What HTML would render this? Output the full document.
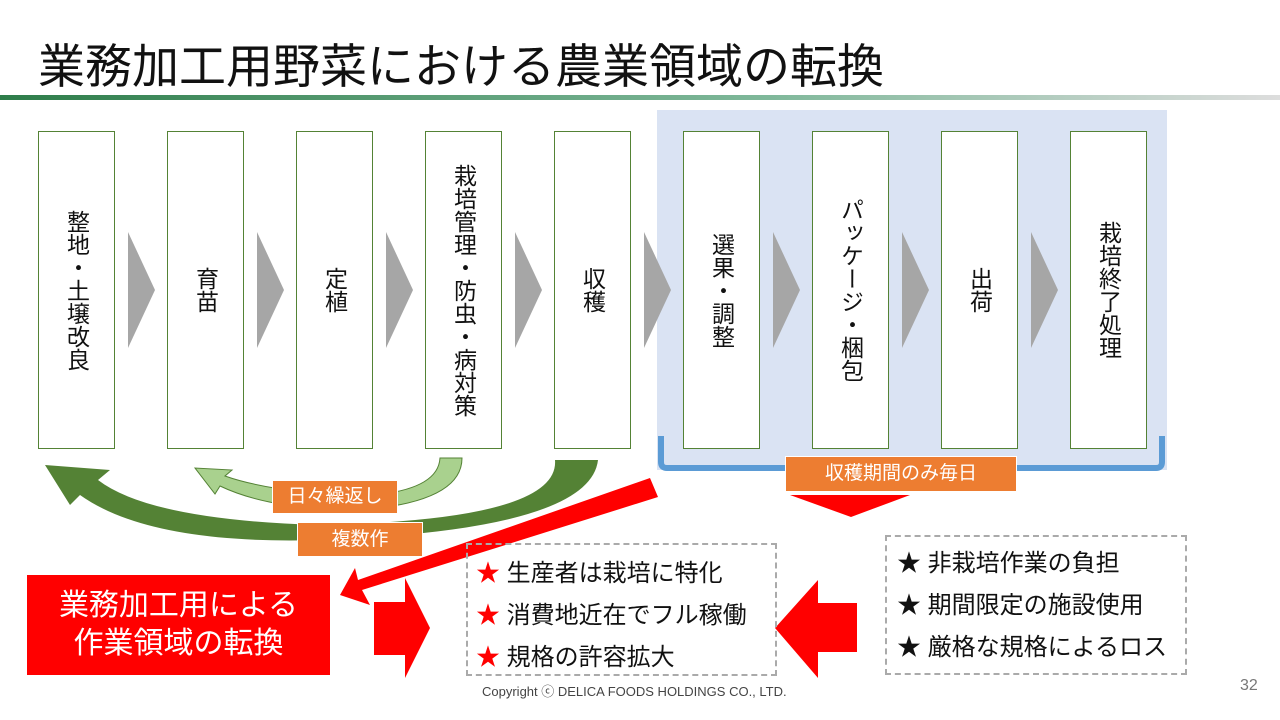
<!DOCTYPE html><html><head><meta charset="utf-8"><style>
body{margin:0;width:1280px;height:720px;background:#fff;position:relative;overflow:hidden;font-family:"Liberation Sans","Noto Sans CJK JP",sans-serif}
.a{position:absolute}
.box{position:absolute;top:131px;width:75px;height:316px;border:1.5px solid #548235;background:#fff;display:flex;justify-content:center;padding-top:0}
.box span{writing-mode:vertical-rl;font-size:23px;color:#111;align-self:center;letter-spacing:0px}
.or{position:absolute;background:#ed7d31;color:#fff;font-size:19px;text-align:center;border:1px solid #fff}
.dash{position:absolute;border:2px dashed #aaa;box-sizing:border-box;font-size:24px;color:#111}
.dash div{height:42px;line-height:42px}
</style></head><body>
<div class="a" style="left:38px;top:28px;font-size:47px;color:#111">業務加工用野菜における農業領域の転換</div>
<div class="a" style="left:0;top:95px;width:1280px;height:5px;background:linear-gradient(90deg,#2e7d4a,#7fb89a 60%,#ddd)"></div>
<div class="a" style="left:657px;top:110px;width:510px;height:360px;background:#dae3f3"></div>
<svg class="a" style="left:0;top:0" width="1280" height="720">
<path d="M661 436 V462 Q661 468 667 468 H1156 Q1162 468 1162 462 V436" fill="none" stroke="#5b9bd5" stroke-width="6"/>
<g fill="#a6a6a6">
<polygon points="128,232 155,290 128,348"/><polygon points="257,232 284,290 257,348"/><polygon points="386,232 413,290 386,348"/><polygon points="515,232 542,290 515,348"/><polygon points="644,232 671,290 644,348"/><polygon points="773,232 800,290 773,348"/><polygon points="902,232 929,290 902,348"/><polygon points="1031,232 1058,290 1031,348"/></g>
<path d="M555 460 Q560 520 320 525 Q150 520 98 480 L110 470 L45 465 L70 505 L80 495 Q150 545 320 540 Q590 530 598 460 Z" fill="#548235"/>
<path d="M440 458 Q438 492 360 496 Q270 492 225 476 L232 470 L195 468 L215 494 L220 486 Q270 510 360 510 Q462 502 462 458 Z" fill="#a9d18e" stroke="#548235" stroke-width="1"/>
<polygon points="650,478 658,497 362,590 370,605 340,595 355,568 358,580" fill="#f00"/>
<polygon points="790,495 910,495 851,517" fill="#f00"/>
<polygon points="374,602 405,602 405,578 430,628 405,678 405,655 374,655" fill="#f00"/>
<polygon points="857,603 818,603 818,580 775,628 818,678 818,652 857,652" fill="#f00"/>
</svg>
<div class="box" style="left:38px"><span>整地・土壌改良</span></div>
<div class="box" style="left:167px"><span>育苗</span></div>
<div class="box" style="left:296px"><span>定植</span></div>
<div class="box" style="left:425px"><span>栽培管理・防虫・病対策</span></div>
<div class="box" style="left:554px"><span>収穫</span></div>
<div class="box" style="left:683px"><span>選果・調整</span></div>
<div class="box" style="left:812px"><span>パッケージ・梱包</span></div>
<div class="box" style="left:941px"><span>出荷</span></div>
<div class="box" style="left:1070px"><span>栽培終了処理</span></div>
<div class="or" style="left:272px;top:480px;width:124px;height:32px;line-height:32px">日々繰返し</div>
<div class="or" style="left:297px;top:522px;width:124px;height:33px;line-height:33px">複数作</div>
<div class="or" style="left:785px;top:456px;width:230px;height:34px;line-height:34px">収穫期間のみ毎日</div>
<div class="a" style="left:27px;top:575px;width:303px;height:100px;background:#f00;color:#fff;font-size:30px;text-align:center;line-height:38px;padding-top:12px;box-sizing:border-box">業務加工用による<br>作業領域の転換</div>
<div class="dash" style="left:466px;top:543px;width:311px;height:133px;padding:8px 0 0 8px"><div><span style="color:#f00">★</span> 生産者は栽培に特化</div><div><span style="color:#f00">★</span> 消費地近在でフル稼働</div><div><span style="color:#f00">★</span> 規格の許容拡大</div></div>
<div class="dash" style="left:885px;top:535px;width:302px;height:140px;padding:6px 0 0 10px"><div>★ 非栽培作業の負担</div><div>★ 期間限定の施設使用</div><div>★ 厳格な規格によるロス</div></div>
<div class="a" style="left:482px;top:681px;font-size:13px;color:#444">Copyright ⓒ DELICA FOODS HOLDINGS CO., LTD.</div>
<div class="a" style="left:1240px;top:677px;font-size:16px;color:#777">32</div>
</body></html>
